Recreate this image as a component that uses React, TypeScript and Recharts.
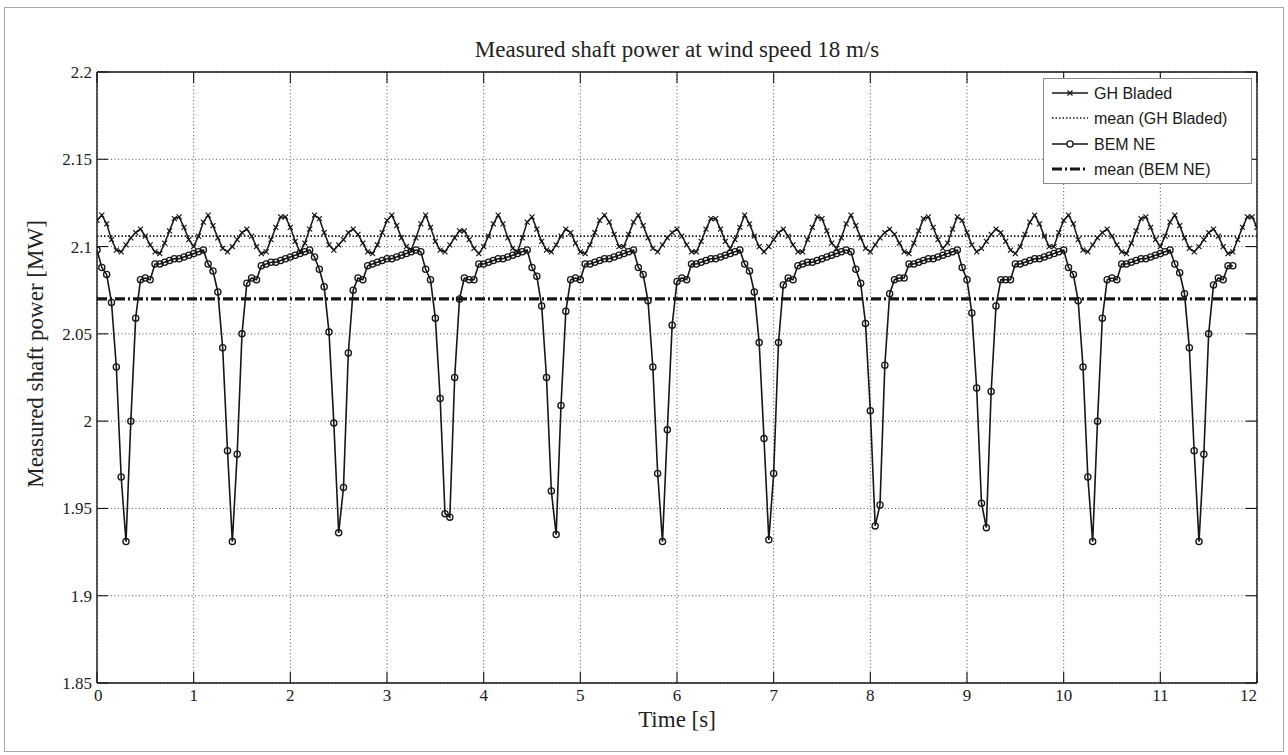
import { LineChart, Line, XAxis, YAxis, CartesianGrid } from "recharts";

// samples are 0.05 s apart, starting at t = 0
const SAMPLE_DT = 0.05;

const X_TICKS = [0, 1, 2, 3, 4, 5, 6, 7, 8, 9, 10, 11, 12];
const Y_TICKS = [1.85, 1.9, 1.95, 2, 2.05, 2.1, 2.15, 2.2];

const GH_BLADED = [
  2.115, 2.118, 2.113, 2.104, 2.098, 2.097, 2.101, 2.105, 2.108, 2.110,
  2.106, 2.101, 2.097, 2.096, 2.102, 2.109, 2.116, 2.117, 2.111, 2.104,
  2.100, 2.106, 2.114, 2.118, 2.112, 2.105, 2.099, 2.097, 2.100, 2.104,
  2.108, 2.110, 2.106, 2.100, 2.096, 2.097, 2.104, 2.111, 2.117, 2.117,
  2.111, 2.103, 2.097, 2.102, 2.110, 2.118, 2.116, 2.108, 2.101, 2.098,
  2.101, 2.104, 2.108, 2.110, 2.107, 2.102, 2.097, 2.096, 2.101, 2.108,
  2.115, 2.118, 2.112, 2.105, 2.100, 2.098, 2.105, 2.113, 2.118, 2.111,
  2.103, 2.098, 2.097, 2.101, 2.105, 2.109, 2.109, 2.104, 2.099, 2.096,
  2.100, 2.106, 2.113, 2.118, 2.113, 2.105, 2.099, 2.097, 2.105, 2.114,
  2.117, 2.110, 2.103, 2.098, 2.097, 2.101, 2.106, 2.110, 2.108, 2.102,
  2.097, 2.096, 2.101, 2.108, 2.115, 2.118, 2.114, 2.107, 2.100, 2.100,
  2.107, 2.114, 2.118, 2.112, 2.105, 2.099, 2.097, 2.101, 2.105, 2.108,
  2.110, 2.106, 2.101, 2.097, 2.097, 2.103, 2.110, 2.116, 2.116, 2.110,
  2.103, 2.099, 2.104, 2.111, 2.118, 2.113, 2.106, 2.100, 2.097, 2.100,
  2.104, 2.108, 2.110, 2.106, 2.101, 2.097, 2.097, 2.104, 2.111, 2.117,
  2.116, 2.109, 2.102, 2.099, 2.105, 2.113, 2.118, 2.112, 2.105, 2.099,
  2.097, 2.101, 2.105, 2.108, 2.110, 2.107, 2.102, 2.097, 2.096, 2.102,
  2.109, 2.116, 2.117, 2.111, 2.104, 2.099, 2.102, 2.110, 2.117, 2.115,
  2.108, 2.101, 2.097, 2.099, 2.103, 2.107, 2.110, 2.108, 2.103, 2.098,
  2.096, 2.100, 2.107, 2.114, 2.118, 2.113, 2.106, 2.100, 2.100, 2.108,
  2.115, 2.118, 2.113, 2.104, 2.098, 2.097, 2.101, 2.105, 2.108, 2.110,
  2.106, 2.101, 2.097, 2.096, 2.102, 2.109, 2.116, 2.117, 2.111, 2.104,
  2.100, 2.106, 2.114, 2.118, 2.112, 2.105, 2.099, 2.097, 2.100, 2.104,
  2.108, 2.110, 2.106, 2.100, 2.096, 2.097, 2.104, 2.111, 2.117, 2.117,
  2.111,
];

const BEM_NE = [
  2.098, 2.088, 2.084, 2.068, 2.031, 1.968, 1.931, 2.000, 2.059, 2.081,
  2.082, 2.081, 2.090, 2.090, 2.091, 2.092, 2.093, 2.093, 2.094, 2.095,
  2.096, 2.097, 2.098, 2.090, 2.086, 2.074, 2.042, 1.983, 1.931, 1.981,
  2.050, 2.079, 2.082, 2.081, 2.089, 2.090, 2.091, 2.091, 2.092, 2.093,
  2.094, 2.095, 2.096, 2.097, 2.098, 2.094, 2.087, 2.077, 2.051, 1.999,
  1.936, 1.962, 2.039, 2.075, 2.082, 2.081, 2.089, 2.090, 2.091, 2.092,
  2.093, 2.093, 2.094, 2.095, 2.096, 2.097, 2.098, 2.097, 2.087, 2.081,
  2.059, 2.013, 1.947, 1.945, 2.025, 2.070, 2.082, 2.081, 2.081, 2.090,
  2.090, 2.091, 2.092, 2.093, 2.093, 2.094, 2.095, 2.096, 2.097, 2.098,
  2.088, 2.083, 2.066, 2.025, 1.960, 1.935, 2.009, 2.063, 2.081, 2.082,
  2.081, 2.090, 2.090, 2.091, 2.092, 2.093, 2.093, 2.094, 2.095, 2.096,
  2.097, 2.098, 2.088, 2.084, 2.069, 2.031, 1.970, 1.931, 1.995, 2.055,
  2.080, 2.082, 2.081, 2.090, 2.090, 2.091, 2.092, 2.093, 2.093, 2.094,
  2.095, 2.096, 2.097, 2.098, 2.090, 2.086, 2.074, 2.045, 1.990, 1.932,
  1.970, 2.045, 2.078, 2.082, 2.081, 2.089, 2.090, 2.091, 2.091, 2.092,
  2.093, 2.094, 2.095, 2.096, 2.097, 2.098, 2.097, 2.087, 2.079, 2.056,
  2.006, 1.940, 1.952, 2.032, 2.073, 2.081, 2.082, 2.082, 2.090, 2.090,
  2.091, 2.092, 2.093, 2.093, 2.094, 2.095, 2.096, 2.097, 2.098, 2.088,
  2.081, 2.062, 2.019, 1.953, 1.939, 2.017, 2.066, 2.081, 2.081, 2.081,
  2.090, 2.090, 2.091, 2.092, 2.093, 2.093, 2.094, 2.095, 2.096, 2.097,
  2.098, 2.088, 2.084, 2.069, 2.031, 1.968, 1.931, 2.000, 2.059, 2.081,
  2.082, 2.081, 2.090, 2.090, 2.091, 2.092, 2.093, 2.093, 2.094, 2.095,
  2.096, 2.097, 2.098, 2.090, 2.085, 2.073, 2.042, 1.983, 1.931, 1.981,
  2.050, 2.078, 2.082, 2.081, 2.089, 2.089,
];

const MEAN_GH_BLADED = 2.106;
const MEAN_BEM_NE = 2.07;

const TITLE = "Measured shaft power at wind speed 18 m/s";
const X_LABEL = "Time [s]";
const Y_LABEL = "Measured shaft power [MW]";
const LEGEND_LABELS = ["GH Bladed", "mean (GH Bladed)", "BEM NE", "mean (BEM NE)"];

const INK = "#161616";
const TICK_LEN = 11;
const SERIF = '"Liberation Serif", "Times New Roman", serif';
const SANS = '"Liberation Sans", Arial, sans-serif';
const MEAN_GH_DASH = "1.5 2";
const MEAN_BEM_DASH = "10 3 2 3";

const toPoints = (vals: number[]) => vals.map((v, i) => ({ t: +(i * SAMPLE_DT).toFixed(2), v }));
const ghData = toPoints(GH_BLADED);
const bemData = toPoints(BEM_NE);
const xMin = X_TICKS[0];
const xMax = X_TICKS[X_TICKS.length - 1];
const meanGhData = [{ t: xMin, v: MEAN_GH_BLADED }, { t: xMax, v: MEAN_GH_BLADED }];
const meanBemData = [{ t: xMin, v: MEAN_BEM_NE }, { t: xMax, v: MEAN_BEM_NE }];

const crossPath = (cx: number, cy: number, s = 2.5) =>
  `M${cx - s},${cy - s}L${cx + s},${cy + s}M${cx + s},${cy - s}L${cx - s},${cy + s}`;

const CrossDot = (p: any) =>
  p.cx == null ? null : <path key={`x${p.index}`} d={crossPath(p.cx, p.cy)} stroke={INK} strokeWidth={1.2} fill="none" />;

const CircleDot = (p: any) =>
  p.cx == null ? null : <circle key={`o${p.index}`} cx={p.cx} cy={p.cy} r={3.1} stroke={INK} strokeWidth={1.3} fill="none" />;

const BottomTick = (p: any) => {
  const v = p.payload.value;
  const anchor = v === xMin ? "start" : v === xMax ? "end" : "middle";
  return (
    <g>
      <line x1={p.x} y1={p.y} x2={p.x} y2={p.y - TICK_LEN} stroke={INK} strokeWidth={1.1} />
      <text x={p.x + (v === xMin ? -3 : 0)} y={p.y + 18} textAnchor={anchor} fontFamily={SERIF} fontSize={17} fill="#222">
        {v}
      </text>
    </g>
  );
};

const TopTick = (p: any) => (
  <line x1={p.x} y1={p.y} x2={p.x} y2={p.y + TICK_LEN} stroke={INK} strokeWidth={1.1} />
);

const LeftTick = (p: any) => (
  <g>
    <line x1={p.x} y1={p.y} x2={p.x + TICK_LEN} y2={p.y} stroke={INK} strokeWidth={1.1} />
    <text x={p.x - 5} y={p.y} dy="0.35em" textAnchor="end" fontFamily={SERIF} fontSize={17} fill="#222">
      {String(p.payload.value)}
    </text>
  </g>
);

const RightTick = (p: any) => (
  <line x1={p.x} y1={p.y} x2={p.x - TICK_LEN} y2={p.y} stroke={INK} strokeWidth={1.1} />
);

function LegendBox() {
  const rows = [14, 39, 65, 90];
  return (
    <div
      style={{
        position: "absolute", left: 1043, top: 78, width: 209, height: 106,
        border: "1.5px solid #8a8a8a", background: "#fff", boxSizing: "border-box",
      }}
    >
      <svg width={206} height={103} style={{ display: "block" }}>
        <line x1={8} x2={44} y1={rows[0]} y2={rows[0]} stroke={INK} strokeWidth={1.5} />
        <path d={crossPath(26, rows[0])} stroke={INK} strokeWidth={1.2} />
        <line x1={8} x2={44} y1={rows[1]} y2={rows[1]} stroke={INK} strokeWidth={1.6} strokeDasharray={MEAN_GH_DASH} />
        <line x1={8} x2={44} y1={rows[2]} y2={rows[2]} stroke={INK} strokeWidth={1.6} />
        <circle cx={26} cy={rows[2]} r={3.1} stroke={INK} strokeWidth={1.3} fill="#fff" />
        <line x1={8} x2={44} y1={rows[3]} y2={rows[3]} stroke={INK} strokeWidth={3.2} strokeDasharray={MEAN_BEM_DASH} />
        {LEGEND_LABELS.map((s, i) => (
          <text key={s} x={50} y={rows[i]} dy="0.36em" fontFamily={SANS} fontSize={16} fill="#1a1a1a">
            {s}
          </text>
        ))}
      </svg>
    </div>
  );
}

export default function App() {
  return (
    <div style={{ position: "absolute", left: 0, top: 0, width: 1288, height: 755, background: "#fff", overflow: "hidden" }}>
      <div style={{ position: "absolute", left: 4, top: 7, width: 1280, height: 745, border: "1px solid #a8a8a8", boxSizing: "border-box" }} />
      <div style={{ position: "absolute", left: 0, top: 0 }}>
        <LineChart width={1288} height={755} margin={{ top: 71, right: 30, bottom: 71, left: 96 }}>
          <CartesianGrid stroke="#555" strokeWidth={1} strokeDasharray="1 2.5" />
          <XAxis
            dataKey="t" type="number" domain={[xMin, xMax]} ticks={X_TICKS} interval={0} height={1}
            tickSize={0} tickMargin={0} tickLine={false} tick={BottomTick}
            axisLine={{ stroke: INK, strokeWidth: 1.4 }} allowDataOverflow
          />
          <XAxis
            xAxisId="top" orientation="top" dataKey="t" type="number" domain={[xMin, xMax]} ticks={X_TICKS}
            interval={0} height={1} tickSize={0} tickMargin={0} tickLine={false} tick={TopTick}
            axisLine={{ stroke: INK, strokeWidth: 1.4 }} allowDataOverflow
          />
          <YAxis
            type="number" domain={[Y_TICKS[0], Y_TICKS[Y_TICKS.length - 1]]} ticks={Y_TICKS} interval={0} width={1}
            tickSize={0} tickMargin={0} tickLine={false} tick={LeftTick}
            axisLine={{ stroke: INK, strokeWidth: 1.4 }} allowDataOverflow
          />
          <YAxis
            yAxisId="right" orientation="right" type="number" domain={[Y_TICKS[0], Y_TICKS[Y_TICKS.length - 1]]}
            ticks={Y_TICKS} interval={0} width={1} tickSize={0} tickMargin={0} tickLine={false} tick={RightTick}
            axisLine={{ stroke: INK, strokeWidth: 1.4 }} allowDataOverflow
          />
          <Line data={ghData} dataKey="v" name={LEGEND_LABELS[0]} type="linear" stroke={INK} strokeWidth={1.5}
            dot={CrossDot} activeDot={false} isAnimationActive={false} />
          <Line data={meanGhData} dataKey="v" name={LEGEND_LABELS[1]} xAxisId="top" yAxisId="right" type="linear"
            stroke={INK} strokeWidth={1.6} strokeDasharray={MEAN_GH_DASH} dot={false} activeDot={false} isAnimationActive={false} />
          <Line data={bemData} dataKey="v" name={LEGEND_LABELS[2]} type="linear" stroke={INK} strokeWidth={1.6}
            dot={CircleDot} activeDot={false} isAnimationActive={false} />
          <Line data={meanBemData} dataKey="v" name={LEGEND_LABELS[3]} xAxisId="top" yAxisId="right" type="linear"
            stroke={INK} strokeWidth={3.2} strokeDasharray={MEAN_BEM_DASH} dot={false} activeDot={false} isAnimationActive={false} />
        </LineChart>
      </div>
      <div style={{ position: "absolute", left: 97, top: 36, width: 1160, textAlign: "center", fontFamily: SERIF, fontSize: 23, lineHeight: "28px", color: "#222" }}>
        {TITLE}
      </div>
      <div style={{ position: "absolute", left: 97, top: 706, width: 1160, textAlign: "center", fontFamily: SERIF, fontSize: 23, lineHeight: "28px", color: "#222" }}>
        {X_LABEL}
      </div>
      <div
        style={{
          position: "absolute", left: 36 - 170, top: 354 - 14, width: 340, height: 28, textAlign: "center",
          fontFamily: SERIF, fontSize: 23, lineHeight: "28px", color: "#222", transform: "rotate(-90deg)",
        }}
      >
        {Y_LABEL}
      </div>
      <LegendBox />
    </div>
  );
}
